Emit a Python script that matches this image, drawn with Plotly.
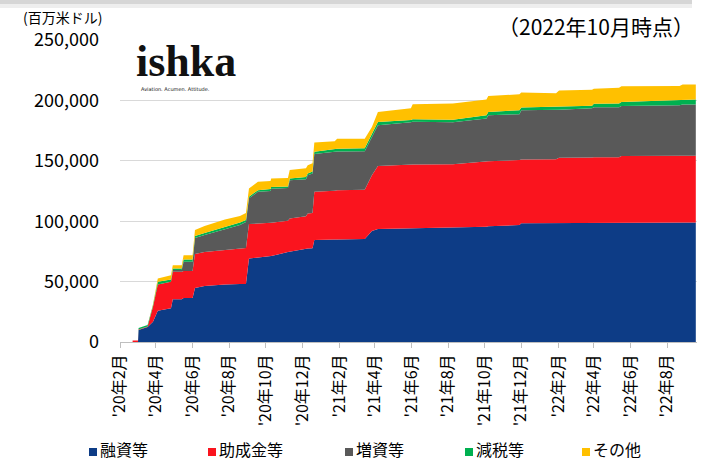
import plotly.graph_objects as go

dates = [
    "2020-02-22", "2020-03-02", "2020-03-03", "2020-03-18", "2020-03-27", "2020-04-04",
    "2020-04-26", "2020-04-29", "2020-05-14", "2020-05-17", "2020-06-01", "2020-06-05",
    "2020-06-21", "2020-07-08", "2020-07-25", "2020-08-19", "2020-08-29", "2020-09-03",
    "2020-09-18", "2020-10-09", "2020-10-10", "2020-11-07", "2020-11-10", "2020-12-07",
    "2020-12-10", "2020-12-18", "2020-12-21", "2021-01-24", "2021-01-28", "2021-03-15",
    "2021-03-27", "2021-04-06", "2021-05-31", "2021-06-03", "2021-08-09", "2021-10-04",
    "2021-10-07", "2021-11-28", "2021-12-01", "2022-01-28", "2022-02-02", "2022-03-29",
    "2022-04-01", "2022-05-13", "2022-05-17", "2022-08-22", "2022-08-27", "2022-09-18",
]

loans = [
    0, 0, 9900, 12400, 16800, 25900,
    27900, 35300, 35300, 36400, 36400, 44700,
    46300, 47100, 47600, 48000, 48000, 69200,
    69900, 70500, 71100, 74400, 74700, 76900,
    77500, 77700, 84400, 84800, 84900, 85200,
    91800, 93500, 94000, 94300, 94500, 95400,
    95900, 96800, 98200, 98400, 98400, 98400,
    98400, 98400, 98400, 98700, 99000, 99000,
]
grants = [
    1200, 1200, 400, 400, 12400, 21800,
    22000, 22800, 22800, 22300, 22300, 28100,
    28100, 28100, 28500, 29400, 29800, 28400,
    28100, 27900, 27700, 26000, 27600, 27300,
    28900, 29000, 40000, 40500, 40700, 40900,
    46300, 52100, 52400, 52700, 52700, 53800,
    53800, 53800, 52900, 52900, 54100, 54400,
    54600, 54600, 55500, 55400, 55100, 55100,
]
equity = [
    0, 0, 0, 0, 0, 0,
    0, 1400, 1400, 7700, 7700, 13200,
    14100, 15700, 17400, 19400, 21500, 21300,
    26300, 26500, 28100, 27000, 31700, 30600,
    31700, 32700, 31200, 31800, 32200, 31800,
    32300, 33900, 35600, 35400, 34800, 35900,
    38000, 38000, 40800, 40800, 39700, 40600,
    41400, 41400, 41400, 41900, 42500, 42500,
]
tax = [
    0, 0, 1200, 1200, 1200, 2100,
    1800, 1400, 1400, 1800, 1800, 1700,
    1700, 1700, 1700, 2100, 1700, 1300,
    1400, 1700, 1500, 1400, 1400, 1700,
    1400, 1700, 1900, 2100, 2100, 2500,
    1700, 2700, 1700, 2000, 2000, 2700,
    2700, 3300, 2200, 2700, 2700, 2200,
    2800, 3100, 3300, 4100, 4100, 4100,
]
other = [
    0, 0, 0, 0, 800, 2800,
    3500, 2700, 2700, 3700, 3700, 5000,
    5800, 6000, 6200, 5400, 5800, 6900,
    6900, 6600, 6900, 6900, 6900, 7400,
    6900, 6800, 7600, 7000, 8400, 7900,
    5800, 8300, 9700, 12400, 13500, 13000,
    13200, 13200, 12400, 11200, 13200, 13200,
    12400, 13000, 13200, 11800, 12400, 12400,
]

series_names = ["融資等", "助成金等", "増資等", "減税等", "その他"]
series_colors = ["#0d3c86", "#fa141e", "#595959", "#00b050", "#ffc000"]
series_values = [loans, grants, equity, tax, other]

tick_dates = [
    "2020-02-01", "2020-04-01", "2020-06-01", "2020-08-01", "2020-10-01", "2020-12-01",
    "2021-02-01", "2021-04-01", "2021-06-01", "2021-08-01", "2021-10-01", "2021-12-01",
    "2022-02-01", "2022-04-01", "2022-06-01", "2022-08-01",
]
tick_labels = [
    "'20年2月", "'20年4月", "'20年6月", "'20年8月", "'20年10月", "'20年12月",
    "'21年2月", "'21年4月", "'21年6月", "'21年8月", "'21年10月", "'21年12月",
    "'22年2月", "'22年4月", "'22年6月", "'22年8月",
]
y_ticks = [0, 50000, 100000, 150000, 200000, 250000]
y_labels = ["0", "50,000", "100,000", "150,000", "200,000", "250,000"]

FONT = "Noto Sans CJK JP"

fig = go.Figure()
for name, vals, color in zip(series_names, series_values, series_colors):
    fig.add_trace(go.Scatter(
        x=dates, y=vals, name=name, mode="lines",
        line=dict(width=0, color=color), fillcolor=color,
        stackgroup="one", showlegend=False, hoverinfo="skip",
    ))

# plot area geometry in pixels
L, R, T, B = 120, 697, 40, 342
W, H = R - L, B - T


def px(xp):
    return (xp - L) / W


def py(yp):
    return (B - yp) / H


annotations = [
    dict(text="(百万米ドル)", x=px(62), y=py(17), xanchor="center", yanchor="middle",
         font=dict(size=14, color="#000", family=FONT)),
    dict(text="（2022年10月時点）", x=px(696), y=py(26), xanchor="right", yanchor="middle",
         font=dict(size=21, color="#000", family=FONT)),
    dict(text="<b>ishka</b>", x=px(186), y=py(61), xanchor="center", yanchor="middle",
         font=dict(size=44, color="#111", family="Liberation Serif")),
    dict(text="Aviation. Acumen. Attitude.", x=px(139), y=py(89), xanchor="left", yanchor="middle",
         font=dict(size=5, color="#111", family="DejaVu Sans")),
]

shapes = [
    dict(type="rect", xref="paper", yref="paper", x0=px(0), x1=px(692), y0=py(4), y1=py(0),
         fillcolor="#d6d6d6", line=dict(width=0), layer="above"),
    dict(type="rect", xref="paper", yref="paper", x0=px(0), x1=px(692), y0=py(8), y1=py(4),
         fillcolor="#eeeeee", line=dict(width=0), layer="above"),
]

legend_x = [89, 208, 345, 465, 582]
for lx, name, color in zip(legend_x, series_names, series_colors):
    shapes.append(dict(type="rect", xref="paper", yref="paper",
                       x0=px(lx), x1=px(lx + 8), y0=py(456), y1=py(448),
                       fillcolor=color, line=dict(width=0)))
    annotations.append(dict(text=name, x=px(lx + 10), y=py(449), xanchor="left", yanchor="middle",
                            borderpad=0,
                            showarrow=False, font=dict(size=16, color="#000", family=FONT)))

for a in annotations:
    a.setdefault("showarrow", False)
    a["xref"] = "paper"
    a["yref"] = "paper"

fig.update_layout(
    width=702, height=461,
    margin=dict(l=L, r=702 - R, t=T, b=461 - B),
    paper_bgcolor="white", plot_bgcolor="white",
    font=dict(family=FONT, color="#000"),
    annotations=annotations, shapes=shapes,
    xaxis=dict(
        type="date", range=["2020-02-01", "2022-09-20"],
        tickmode="array", tickvals=tick_dates, ticktext=tick_labels,
        tickangle=-90, ticks="outside", ticklen=5, tickcolor="#bfbfbf",
        showline=True, linecolor="#bfbfbf", linewidth=1,
        showgrid=False, zeroline=False,
        tickfont=dict(size=16, color="#000", family=FONT),
    ),
    yaxis=dict(
        range=[0, 250000], tickmode="array", tickvals=y_ticks, ticktext=y_labels,
        showgrid=True, gridcolor="#d9d9d9", gridwidth=1,
        zeroline=False, showline=False, ticks="",
        ticklabelstandoff=20,
        tickfont=dict(size=18, color="#000", family=FONT),
    ),
)

fig.write_html(
    "out.html",
    config={"displayModeBar": False},
    post_script="document.body.style.margin='0';document.body.style.overflow='hidden';",
)
